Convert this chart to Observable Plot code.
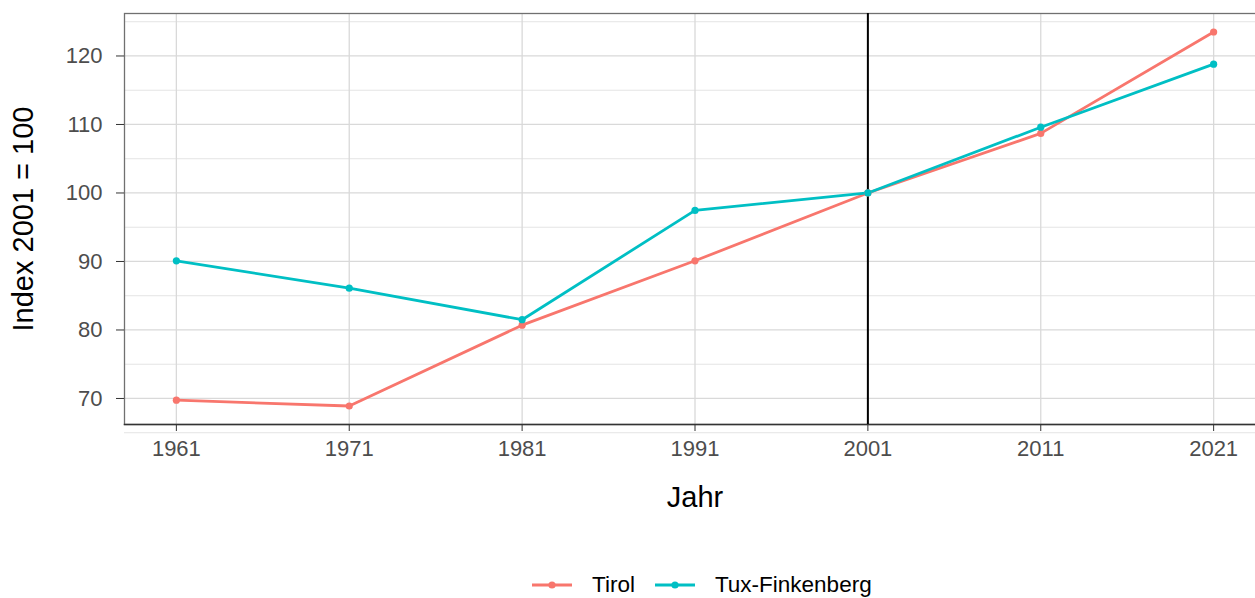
<!DOCTYPE html>
<html><head><meta charset="utf-8">
<script src="https://cdn.jsdelivr.net/npm/d3@7"></script>
<script src="https://cdn.jsdelivr.net/npm/@observablehq/plot@0.6"></script>
<style>
html,body{margin:0;padding:0;background:#fff;overflow:hidden;width:1255px;height:598px}
body{font-family:"Liberation Sans",Arial,sans-serif;position:relative}
#chart{width:1265px;height:560px;overflow:visible}
#chart svg{max-width:none !important;width:1265px !important;height:560px !important;display:block}
#legend{position:absolute;top:573px;left:532px;display:flex;align-items:center;font-size:22.5px;color:#000;height:24px}
#legend .item{display:flex;align-items:center}
#legend .item span{margin-left:20px;margin-right:20px}
</style></head><body>
<div id="chart"></div>
<div id="legend"></div>
<script>
const years = [1961, 1971, 1981, 1991, 2001, 2011, 2021];
const tirol = [69.75, 68.9, 80.7, 90.1, 100, 108.7, 123.5];
const tux = [90.1, 86.1, 81.5, 97.45, 100, 109.6, 118.8];
const seriesNames = ["Tirol", "Tux-Finkenberg"];
const seriesColors = ["#F8766D", "#00BFC4"];
const yTicks = [70, 80, 90, 100, 110, 120];
const yMinor = [65, 75, 85, 95, 105, 115, 125];
const refYear = [2001];

const data = [];
years.forEach((y, i) => data.push({year: y, value: tirol[i], series: seriesNames[0]}));
years.forEach((y, i) => data.push({year: y, value: tux[i], series: seriesNames[1]}));

const chart = Plot.plot({
  width: 1265,
  height: 560,
  marginTop: 13,
  marginBottom: 136,
  marginLeft: 124,
  marginRight: 0,
  style: {fontFamily: '"Liberation Sans", Arial, sans-serif', background: "#fff", overflow: "visible", maxWidth: "none"},
  x: {domain: [1958, 2024]},
  y: {domain: [66.2, 126.2]},
  color: {domain: seriesNames, range: seriesColors},
  marks: [
    Plot.gridY(yMinor, {stroke: "#e4e4e4", strokeOpacity: 1, strokeWidth: 1}),
    Plot.gridY(yTicks, {stroke: "#d9d9d9", strokeOpacity: 1, strokeWidth: 1.3}),
    Plot.gridX(years, {stroke: "#d9d9d9", strokeOpacity: 1, strokeWidth: 1.3}),
    Plot.frame({stroke: "#707070", strokeWidth: 1.3}),
    Plot.frame({anchor: "bottom", stroke: "#333", strokeWidth: 1.5}),
    Plot.ruleX(refYear, {stroke: "#000", strokeWidth: 2}),
    Plot.line(data, {x: "year", y: "value", z: "series", stroke: "series", strokeWidth: 2.8}),
    Plot.dot(data, {x: "year", y: "value", fill: "series", r: 3.6}),
    Plot.axisY(yTicks, {tickSize: 8, tickPadding: 14, fontSize: 22, color: "#4d4d4d", stroke: "#333", label: null}),
    Plot.axisX(years, {tickSize: 7, tickPadding: 9, fontSize: 22, color: "#4d4d4d", stroke: "#333", tickFormat: d => String(d), label: null}),
    Plot.text(["Jahr"], {frameAnchor: "bottom", dy: 73, dx: 0, fontSize: 29, fill: "#000", lineAnchor: "middle"}),
    Plot.text(["Index 2001 = 100"], {frameAnchor: "left", dx: -100.5, rotate: -90, textAnchor: "middle", fontSize: 29, fill: "#000", lineAnchor: "middle"})
  ]
});
document.getElementById("chart").appendChild(chart);

const legend = document.getElementById("legend");
seriesNames.forEach((name, i) => {
  const item = document.createElement("div");
  item.className = "item";
  item.innerHTML = `<svg width="40" height="12"><line x1="0" x2="40" y1="6" y2="6" stroke="${seriesColors[i]}" stroke-width="3.2"/><circle cx="20" cy="6" r="3.6" fill="${seriesColors[i]}"/></svg><span>${name}</span>`;
  legend.appendChild(item);
});
</script>
</body></html>
